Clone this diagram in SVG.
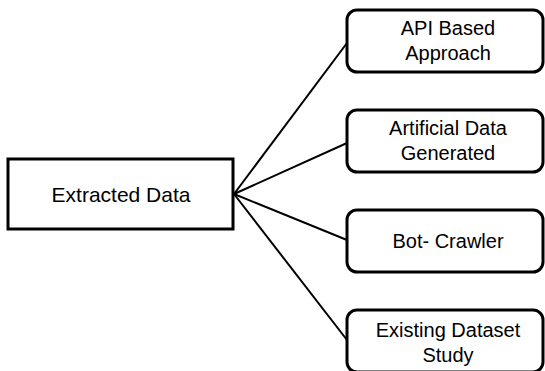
<svg xmlns="http://www.w3.org/2000/svg" width="545" height="371" viewBox="0 0 545 371">
<style>
.box{fill:#fff;stroke:#000;stroke-width:3}
.t{font-family:"Liberation Sans",Arial,sans-serif;font-size:20px;fill:#000;text-anchor:middle}
.c{stroke:#000;stroke-width:2;fill:none}
</style>
<rect width="545" height="371" fill="#fff"/>
<g id="connectors">
<line class="c" x1="234" y1="194" x2="347" y2="43"/>
<line class="c" x1="234" y1="194" x2="347" y2="143"/>
<line class="c" x1="234" y1="194" x2="347" y2="240"/>
<line class="c" x1="234" y1="194" x2="347" y2="340"/>
</g>
<g id="extracted">
<rect class="box" x="8" y="159" width="225" height="70"/>
<text class="t" x="121" y="202" style="font-size:21px">Extracted Data</text>
</g>
<g id="api">
<rect class="box" x="347" y="10" width="196" height="62" rx="10"/>
<text class="t" x="448" y="35">API Based</text>
<text class="t" x="448" y="60">Approach</text>
</g>
<g id="artificial">
<rect class="box" x="347" y="110" width="196" height="62" rx="10"/>
<text class="t" x="448" y="135">Artificial Data</text>
<text class="t" x="448" y="160">Generated</text>
</g>
<g id="bot">
<rect class="box" x="347" y="210" width="196" height="62" rx="10"/>
<text class="t" x="448" y="248">Bot- Crawler</text>
</g>
<g id="existing">
<rect class="box" x="347" y="310" width="196" height="62" rx="10"/>
<text class="t" x="448" y="337">Existing Dataset</text>
<text class="t" x="448" y="362">Study</text>
</g>
</svg>
